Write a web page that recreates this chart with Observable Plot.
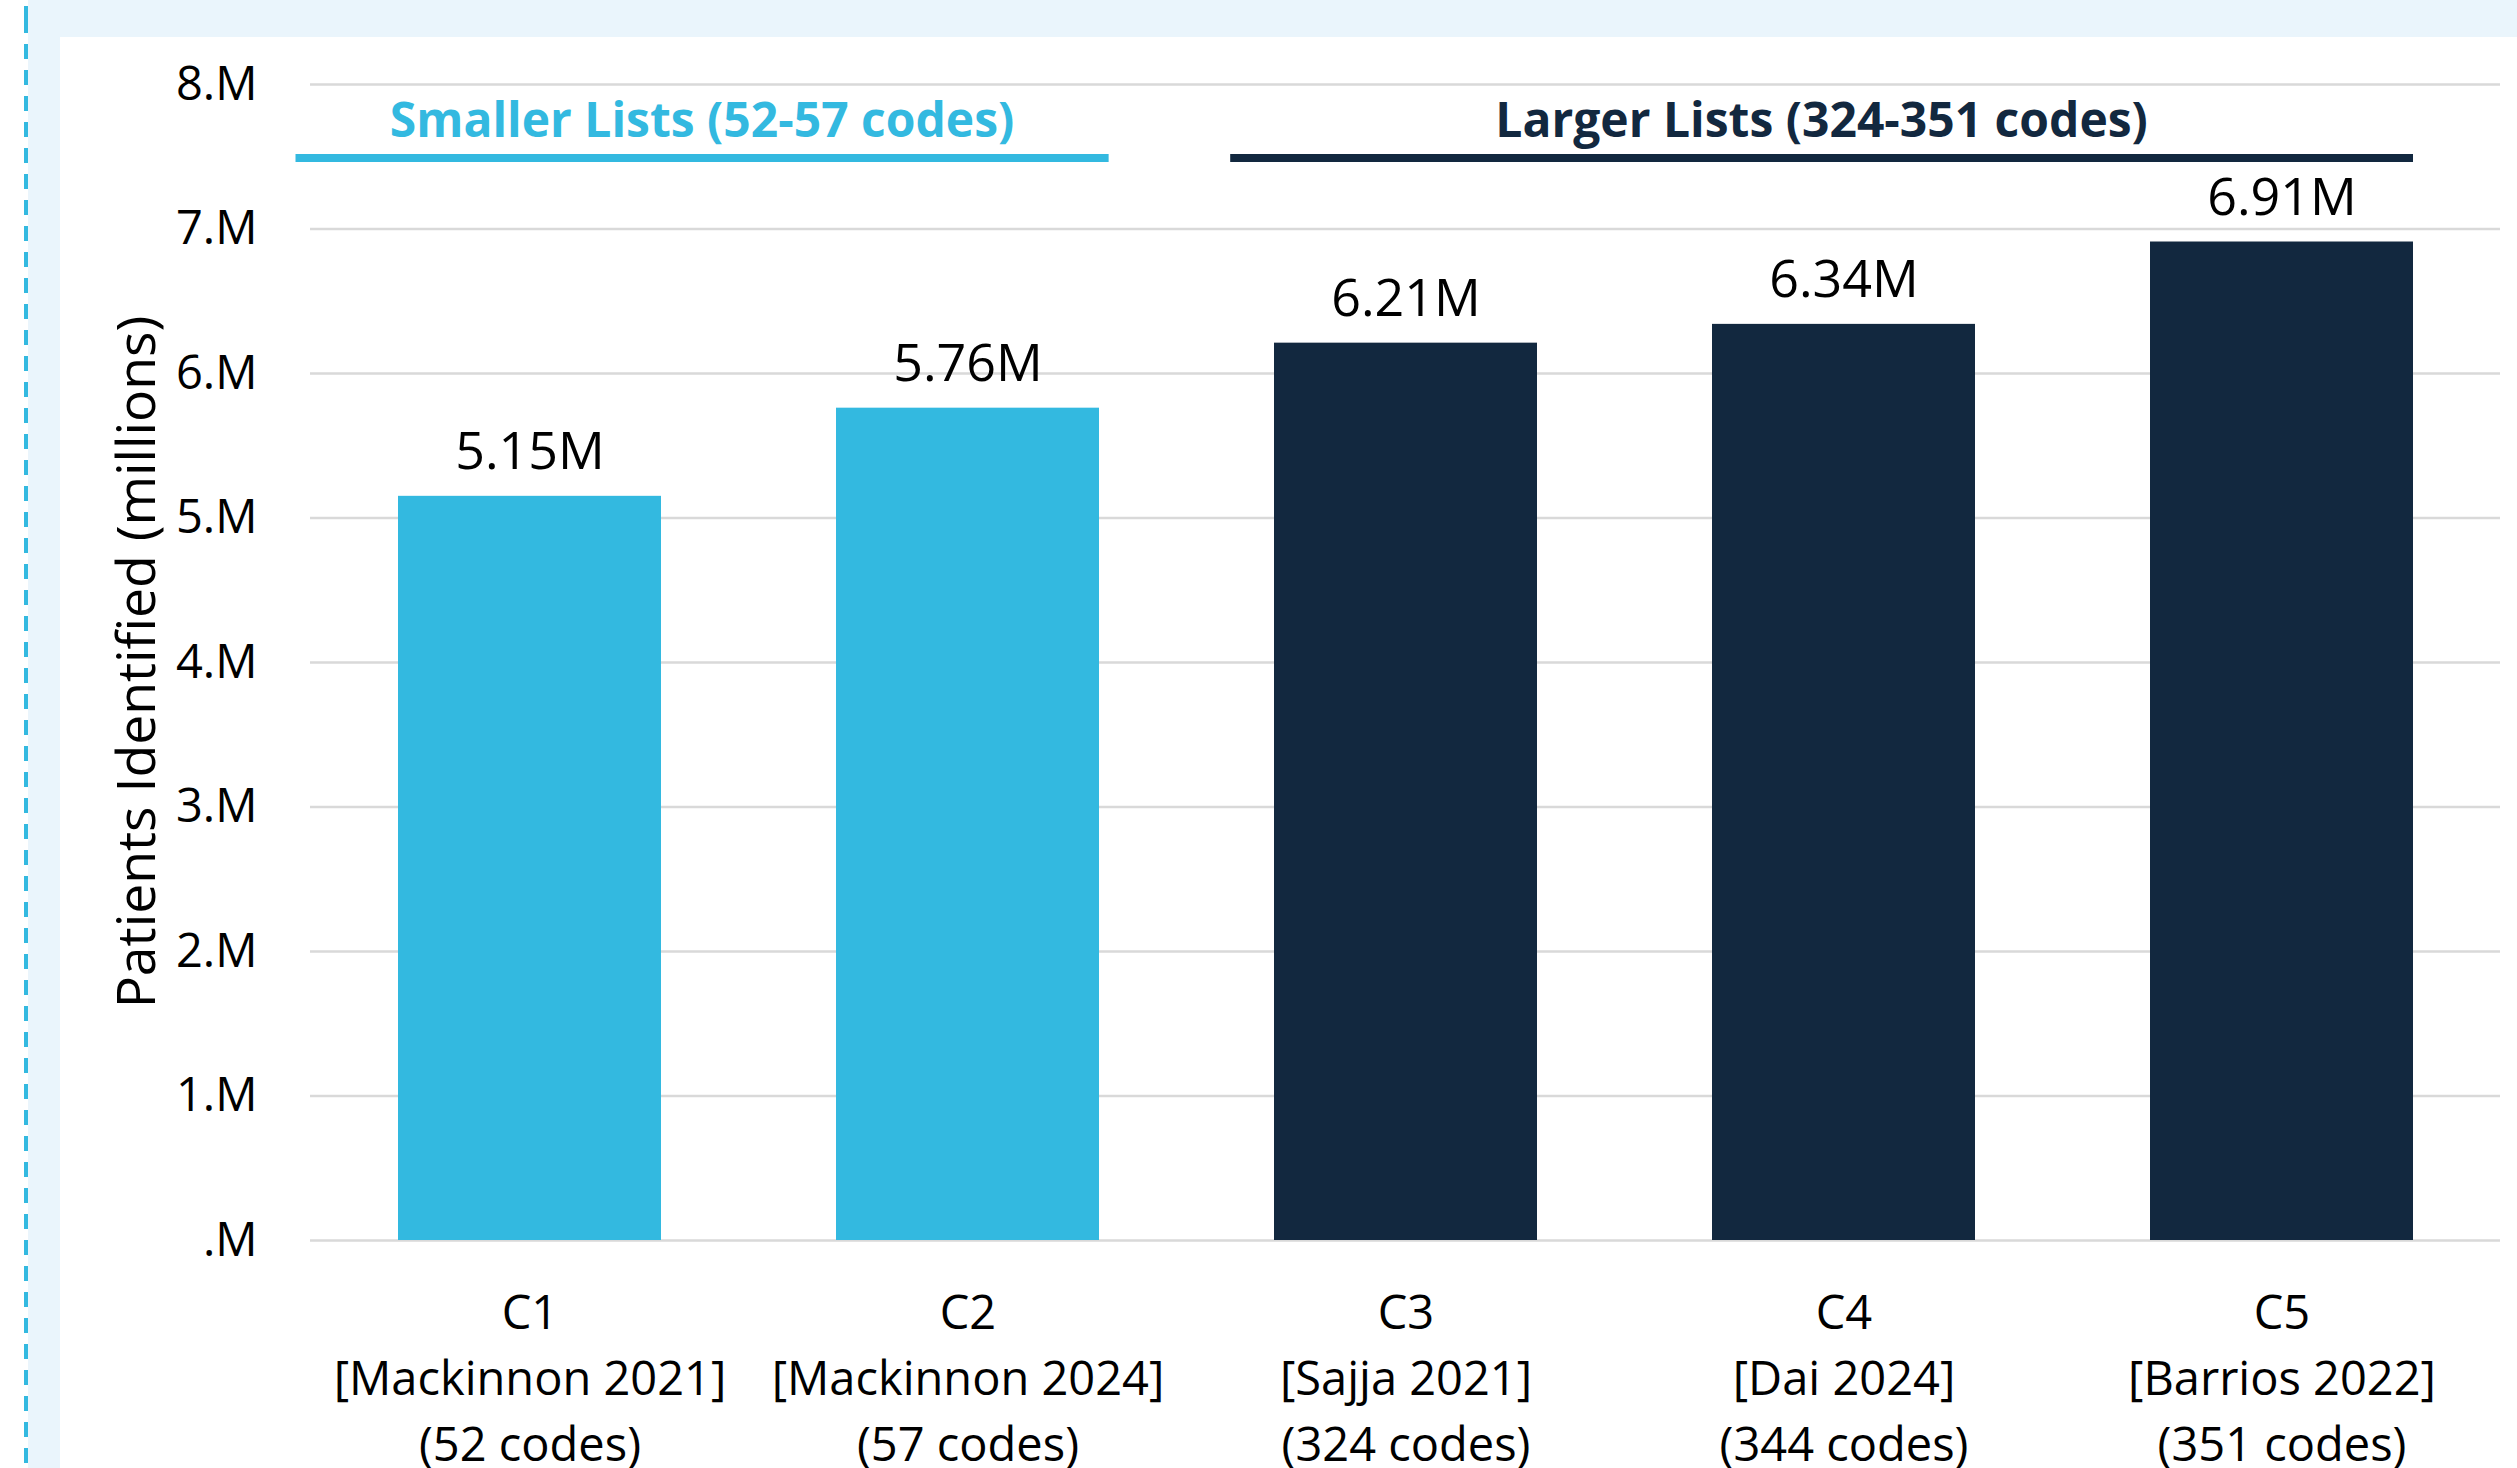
<!DOCTYPE html>
<html><head><meta charset="utf-8">
<script src="https://cdn.jsdelivr.net/npm/d3@7"></script>
<script src="https://cdn.jsdelivr.net/npm/@observablehq/plot@0.6"></script>
<style>
html,body{margin:0;padding:0;background:#fff;}
#page{position:relative;width:2517px;height:1468px;overflow:hidden;background:#fff;}
#band{position:absolute;left:28px;top:0;right:0;bottom:0;background:#EAF5FC;}
#dash{position:absolute;left:24px;top:0;width:4px;height:1468px;background-image:repeating-linear-gradient(to bottom,#33B9E0 0 15px,transparent 15px 26px);background-position:0 18px;}
#panel{position:absolute;left:60px;top:37px;width:2457px;height:1431px;background:#fff;}
</style></head><body>
<div id="page"><div id="band"></div><div id="dash"></div><div id="panel"></div></div>
<script>
const categories = ["C1", "C2", "C3", "C4", "C5"];
const studies = ["Mackinnon 2021", "Mackinnon 2024", "Sajja 2021", "Dai 2024", "Barrios 2022"];
const codeCounts = [52, 57, 324, 344, 351];
const patientsMillions = [5.15, 5.76, 6.21, 6.34, 6.91];
const listSize = ["Smaller", "Smaller", "Larger", "Larger", "Larger"];
const yTicks = [0, 1, 2, 3, 4, 5, 6, 7, 8];
const groupNames = ["Smaller", "Larger"];
const groupLabels = ["Smaller Lists (52-57 codes)", "Larger Lists (324-351 codes)"];
const groupFirst = ["C1", "C3"];
const groupLast = ["C2", "C5"];
const groupColors = ["#33B9E0", "#12283F"];
const yLabel = "Patients Identified (millions)";

const data = categories.map((c, i) => ({
  cat: c, study: studies[i], codes: codeCounts[i], value: patientsMillions[i], group: listSize[i]
}));

function groupBrackets(index, scales, values, dimensions) {
  const x = scales.x;
  const step = x(categories[1]) - x(categories[0]);
  let bw = typeof x.bandwidth === "function" ? x.bandwidth() : x.bandwidth;
  if (!(bw > 0)) bw = step * 0.6;
  const ext = [[-0.234, 0.022], [-0.1, 0]];
  const g = d3.create("svg:g").attr("aria-label", "group brackets");
  groupNames.forEach((name, i) => {
    const x1 = x(groupFirst[i]) + ext[i][0] * step;
    const x2 = x(groupLast[i]) + bw + ext[i][1] * step;
    const ly = dimensions.marginTop + 74;
    g.append("line")
      .attr("x1", x1).attr("x2", x2).attr("y1", ly).attr("y2", ly)
      .attr("stroke", groupColors[i]).attr("stroke-width", 8);
    g.append("text")
      .attr("x", (x1 + x2) / 2).attr("y", dimensions.marginTop + 53)
      .attr("text-anchor", "middle")
      .attr("font-family", "'Open Sans', sans-serif")
      .attr("font-weight", 700)
      .attr("font-size", 48)
      .attr("fill", groupColors[i])
      .text(groupLabels[i]);
  });
  return g.node();
}

function yAxisLabel(index, scales, values, dimensions) {
  const [y0, y1] = scales.y.range ? scales.y.range() : [dimensions.height - dimensions.marginBottom, dimensions.marginTop];
  const cy = (y0 + y1) / 2;
  const cx = dimensions.marginLeft - 174;
  const g = d3.create("svg:g").attr("aria-label", "y-axis label");
  g.append("text")
    .attr("transform", `translate(${cx},${cy}) rotate(-90)`)
    .attr("text-anchor", "middle")
    .attr("dy", "0.35em")
    .attr("font-family", "'Open Sans', sans-serif")
    .attr("font-size", 53.5)
    .attr("fill", "#000")
    .text(yLabel);
  return g.node();
}

const chart = Plot.plot({
  width: 2457,
  height: 1431,
  marginLeft: 250,
  marginRight: 17,
  marginTop: 47,
  marginBottom: 228,
  style: {fontFamily: "'Open Sans', sans-serif", fontSize: "47px", color: "#000", background: "#fff", overflow: "visible"},
  x: {domain: categories, paddingInner: 0.4, paddingOuter: 0.2, axis: null},
  y: {domain: [0, 8], ticks: yTicks, tickFormat: d => d === 0 ? ".M" : d + ".M", tickSize: 0, tickPadding: 53, label: null},
  color: {domain: groupNames, range: groupColors},
  marks: [
    Plot.ruleY(yTicks, {stroke: "#D9D9D9", strokeWidth: 2.5}),
    Plot.barY(data, {x: "cat", y: "value", fill: "group"}),
    Plot.text(data, {x: "cat", y: "value", text: d => d.value.toFixed(2) + "M", lineAnchor: "bottom", dy: -27, fontSize: 52, fill: "#000"}),
    Plot.text(data, {x: "cat", text: d => `${d.cat}\n[${d.study}]\n(${d.codes} codes)`, frameAnchor: "bottom", lineAnchor: "top", dy: 42, lineHeight: 1.4, fontSize: 47, fill: "#000"}),
    yAxisLabel,
    groupBrackets
  ]
});
document.getElementById("panel").appendChild(chart);
</script>
</body></html>
